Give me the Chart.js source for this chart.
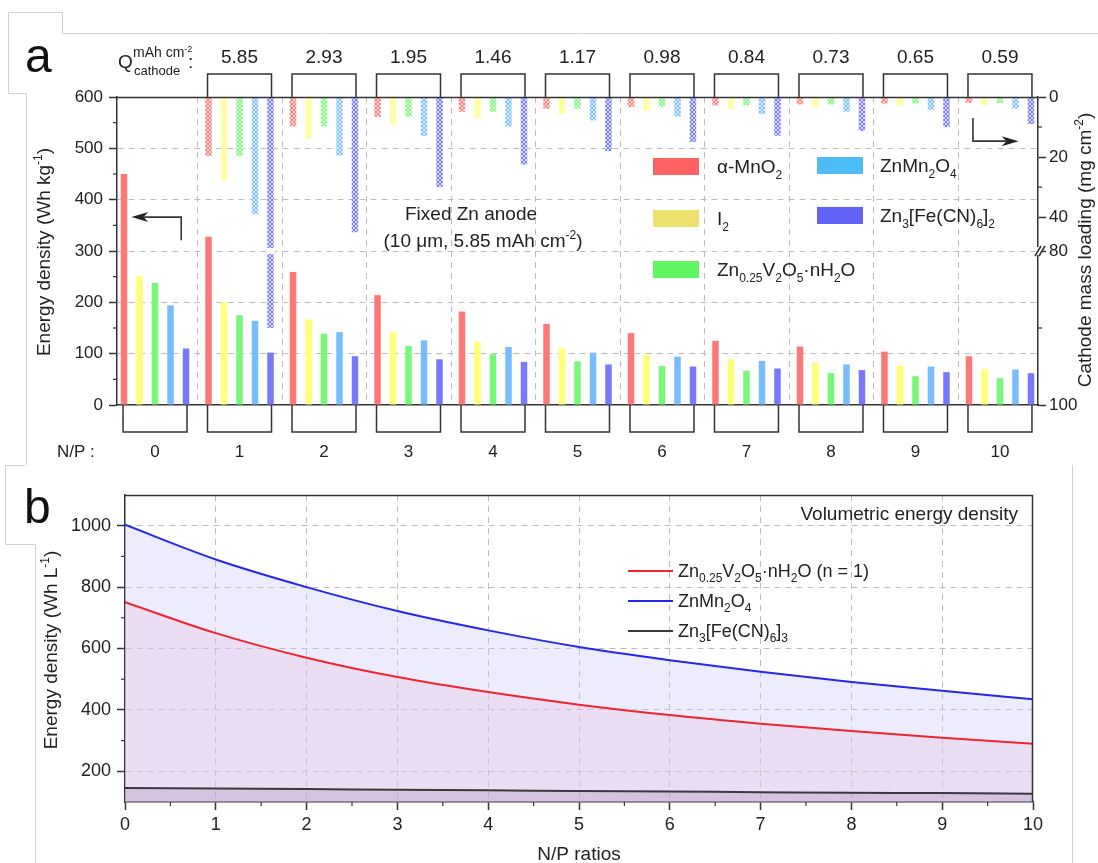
<!DOCTYPE html>
<html>
<head>
<meta charset="utf-8">
<script src="https://cdn.jsdelivr.net/npm/chart.js@4.4.1/dist/chart.umd.min.js"></script>
<style>
  html, body { margin: 0; padding: 0; background: #fff; }
  #wrap { position: relative; width: 1098px; height: 863px; overflow: hidden; }
  canvas { position: absolute; left: 0; }
  #chartA { top: 0; }
  #chartB { top: 465px; }
</style>
</head>
<body>
<div id="wrap">
  <canvas id="chartA" width="1098" height="465" style="width:1098px;height:465px"></canvas>
  <canvas id="chartB" width="1098" height="398" style="width:1098px;height:398px"></canvas>
</div>
<script>
// ---- panel a data ----
var npRatios = [0, 1, 2, 3, 4, 5, 6, 7, 8, 9, 10];
var qCathode = ['', '5.85', '2.93', '1.95', '1.46', '1.17', '0.98', '0.84', '0.73', '0.65', '0.59'];
var materials = ['α-MnO_{2}', 'I_{2}', 'Zn_{0.25}V_{2}O_{5}·nH_{2}O', 'ZnMn_{2}O_{4}', 'Zn_{3}[Fe(CN)_{6}]_{2}'];

// gravimetric energy density (Wh kg-1)
var energyMnO2  = [450, 328, 259, 214, 182, 158, 140, 125, 114, 104, 95];
var energyI2    = [251, 200, 167, 141, 123, 110, 98, 89, 82, 76, 70];
var energyZVO   = [238, 175, 139, 115, 99, 85, 76, 67, 62, 56, 52];
var energyZMO   = [194, 164, 142, 126, 113, 102, 94, 86, 79, 75, 69];
var energyZnHCF = [110, 102, 95, 89, 84, 79, 75, 71, 68, 64, 62];

// cathode mass loading (mg cm-2), none at N/P = 0
var massMnO2  = [null, 19.7, 9.8, 6.6, 4.9, 3.9, 3.3, 2.8, 2.5, 2.2, 2.0];
var massI2    = [null, 27.8, 13.9, 9.3, 6.9, 5.6, 4.6, 4.0, 3.5, 3.1, 2.8];
var massZVO   = [null, 19.7, 9.8, 6.6, 4.9, 3.9, 3.3, 2.8, 2.5, 2.2, 2.0];
var massZMO   = [null, 39.0, 19.5, 13.0, 9.8, 7.8, 6.5, 5.6, 4.9, 4.3, 3.9];
var massZnHCF = [null, 90.0, 45.0, 30.0, 22.5, 18.0, 15.0, 12.9, 11.3, 10.0, 9.0];
var massTicks = [0, 20, 40, 80, 100];
var massMinorTicks = [10, 30, 90];

// ---- panel b data ----
var npCurve   = [0, 1, 2, 3, 4, 5, 6, 7, 8, 9, 10];
var volZVO    = [751, 650, 570, 507, 458, 417, 383, 355, 331, 309, 290];
var volZMO    = [1003, 890, 800, 722, 659, 605, 562, 524, 491, 462, 435];
var volZnHCF  = [146, 144, 142, 140, 138, 136, 134, 132, 130, 129, 127];
var volTicks  = [200, 400, 600, 800, 1000];

var barColors    = ['#ff7878', '#ffff78', '#78f878', '#78beff', '#7878ff'];
var swatchColors = ['#ff6262', '#ebe36e', '#62f562', '#4cbcf4', '#6262f8'];

var FONT = '"Liberation Sans", Arial, sans-serif';
Chart.defaults.font.family = FONT;
Chart.defaults.color = '#222';

function font(size) { return size + 'px ' + FONT; }

// "Zn_{3}[Fe(CN)_{6}]_{2}" -> pieces with sub/superscript shifts
function richParts(str) {
  var parts = [], re = /([_^])\{([^}]*)\}|([^_^]+)/g, m;
  while ((m = re.exec(str)) !== null) {
    if (m[3] !== undefined) parts.push({ t: m[3], shift: 0 });
    else parts.push({ t: m[2], shift: m[1] === '_' ? -1 : 1 });
  }
  return parts;
}

function drawRich(ctx, str, x, y, size, align) {
  var parts = richParts(str), total = 0;
  parts.forEach(function (p) {
    p.size = p.shift ? Math.round(size * 0.64) : size;
    ctx.font = font(p.size);
    p.w = ctx.measureText(p.t).width;
    total += p.w;
  });
  var cx = x;
  if (align === 'center') cx = x - total / 2;
  if (align === 'right') cx = x - total;
  ctx.textAlign = 'left';
  ctx.textBaseline = 'alphabetic';
  parts.forEach(function (p) {
    ctx.font = font(p.size);
    var dy = p.shift < 0 ? size * 0.3 : (p.shift > 0 ? -size * 0.42 : 0);
    ctx.fillText(p.t, cx, y + dy);
    cx += p.w;
  });
}

function drawRotated(ctx, str, cx, cy, size) {
  ctx.save();
  ctx.translate(cx, cy);
  ctx.rotate(-Math.PI / 2);
  drawRich(ctx, str, 0, size * 0.36, size, 'center');
  ctx.restore();
}

function seg(ctx, x1, y1, x2, y2) {
  ctx.beginPath(); ctx.moveTo(x1, y1); ctx.lineTo(x2, y2); ctx.stroke();
}

function arrowHead(ctx, tipX, tipY, dir) {
  ctx.beginPath();
  ctx.moveTo(tipX, tipY);
  ctx.lineTo(tipX - dir * 17, tipY - 5);
  ctx.lineTo(tipX - dir * 12, tipY);
  ctx.lineTo(tipX - dir * 17, tipY + 5);
  ctx.closePath();
  ctx.fill();
}

// the right axis of panel a is broken: 0-51 mg on the upper half, 80-100 mg on the lower half
var Y_TOP = 600, Y_BREAK = 300, MASS_BREAK = 80;
function massToLeft(m) {
  if (m >= MASS_BREAK) return (100 - m) * (Y_BREAK / (100 - MASS_BREAK));
  return Y_TOP - m * 5.85;
}

var ctxA = document.getElementById('chartA').getContext('2d');

function hatch(color) {
  var c = document.createElement('canvas');
  c.width = 4; c.height = 4;
  var g = c.getContext('2d');
  g.fillStyle = '#fff'; g.fillRect(0, 0, 4, 4);
  g.globalAlpha = 0.3; g.fillStyle = color; g.fillRect(0, 0, 4, 4);
  g.globalAlpha = 0.95; g.strokeStyle = color; g.lineWidth = 1;
  g.beginPath(); g.moveTo(0, 0); g.lineTo(4, 4); g.moveTo(4, 0); g.lineTo(0, 4); g.stroke();
  return ctxA.createPattern(c, 'repeat');
}

var energySets = [energyMnO2, energyI2, energyZVO, energyZMO, energyZnHCF];
var massSets = [massMnO2, massI2, massZVO, massZMO, massZnHCF];

var datasetsA = energySets.map(function (vals, k) {
  return {
    label: materials[k],
    stack: 's' + k,
    data: vals.map(function (v, i) { return { x: npRatios[i], y: v }; }),
    backgroundColor: barColors[k],
    borderWidth: 0
  };
}).concat(massSets.map(function (vals, k) {
  var pts = [];
  vals.forEach(function (m, i) {
    if (m !== null) pts.push({ x: npRatios[i], y: [massToLeft(m), Y_TOP] });
  });
  return {
    label: materials[k] + ' loading',
    stack: 's' + k,
    mass: vals,
    data: pts,
    backgroundColor: hatch(barColors[k]),
    borderWidth: 0
  };
}));

var panelA = {
  id: 'panelA',
  beforeDatasetsDraw: function (chart) {
    var ctx = chart.ctx, a = chart.chartArea, x = chart.scales.x;
    ctx.save();
    ctx.strokeStyle = '#bdbdbd'; ctx.lineWidth = 1; ctx.setLineDash([6, 5]);
    for (var i = 0; i < npRatios.length - 1; i++) {
      var px = Math.round(x.getPixelForValue(npRatios[i] + 0.5)) + 0.5;
      seg(ctx, px, a.top, px, a.bottom);
    }
    ctx.restore();
  },
  afterDatasetsDraw: function (chart) {
    // white gap where a loading bar crosses the axis break
    var ctx = chart.ctx, y = chart.scales.y;
    var by = y.getPixelForValue(Y_BREAK);
    ctx.save();
    ctx.fillStyle = '#fff';
    chart.data.datasets.forEach(function (ds, di) {
      if (!ds.mass) return;
      var meta = chart.getDatasetMeta(di);
      ds.data.forEach(function (pt, j) {
        var m = ds.mass[pt.x];
        if (m > 51) {
          var el = meta.data[j];
          ctx.fillRect(el.x - el.width / 2 - 1, by - 3, el.width + 2, 6);
        }
      });
    });
    ctx.restore();
  },
  afterDraw: function (chart) {
    var ctx = chart.ctx, a = chart.chartArea, x = chart.scales.x, y = chart.scales.y;
    ctx.save();
    ctx.strokeStyle = '#333'; ctx.fillStyle = '#222'; ctx.lineWidth = 1.5;

    // top frame line
    seg(ctx, a.left, a.top + 0.5, a.right, a.top + 0.5);

    // minor ticks, left and right axes
    ctx.lineWidth = 1.2;
    for (var v = 50; v < Y_TOP; v += 100) {
      var py = y.getPixelForValue(v);
      seg(ctx, a.left - 4, py, a.left, py);
    }
    massMinorTicks.forEach(function (m) {
      var py = y.getPixelForValue(massToLeft(m));
      seg(ctx, a.right, py, a.right + 4, py);
    });

    // group brackets and labels
    ctx.lineWidth = 1.5;
    var first = chart.getDatasetMeta(0), last = chart.getDatasetMeta(4);
    npRatios.forEach(function (np, i) {
      var x1 = first.data[i].x - 1, x2 = last.data[i].x + 1;
      ctx.beginPath();
      ctx.moveTo(x1, a.bottom); ctx.lineTo(x1, a.bottom + 27);
      ctx.lineTo(x2, a.bottom + 27); ctx.lineTo(x2, a.bottom);
      ctx.stroke();
      ctx.font = font(17); ctx.textAlign = 'center'; ctx.textBaseline = 'alphabetic';
      ctx.fillText(String(np), (x1 + x2) / 2, a.bottom + 52);
      if (qCathode[i]) {
        ctx.beginPath();
        ctx.moveTo(x1, a.top); ctx.lineTo(x1, a.top - 23);
        ctx.lineTo(x2, a.top - 23); ctx.lineTo(x2, a.top);
        ctx.stroke();
        ctx.font = font(19);
        ctx.fillText(qCathode[i], (x1 + x2) / 2, a.top - 34);
      }
    });

    // row captions
    ctx.textAlign = 'left';
    ctx.font = font(17);
    ctx.fillText('N/P :', 57, a.bottom + 52);
    ctx.font = font(19);
    ctx.fillText('Q', 118, 68);
    ctx.font = font(14);
    ctx.fillText('mAh cm', 133, 57);
    var wSup = ctx.measureText('mAh cm').width;
    ctx.font = font(9);
    ctx.fillText('-2', 133 + wSup, 52);
    ctx.font = font(13);
    ctx.fillText('cathode', 134, 75);
    ctx.font = font(19);
    ctx.fillText(':', 188, 68);

    // arrows pointing to the axes
    ctx.lineWidth = 1.6;
    var ax = x.getPixelForValue(0.31), ay1 = y.getPixelForValue(321), ay2 = y.getPixelForValue(366);
    var tipL = x.getPixelForValue(-0.28);
    ctx.beginPath(); ctx.moveTo(ax, ay1); ctx.lineTo(ax, ay2); ctx.lineTo(tipL + 12, ay2); ctx.stroke();
    arrowHead(ctx, tipL, ay2, -1);
    var bx = x.getPixelForValue(9.68), by1 = y.getPixelForValue(559), by2 = y.getPixelForValue(514);
    var tipR = x.getPixelForValue(10.22);
    ctx.beginPath(); ctx.moveTo(bx, by1); ctx.lineTo(bx, by2); ctx.lineTo(tipR - 12, by2); ctx.stroke();
    arrowHead(ctx, tipR, by2, 1);

    // axis break on the right axis
    var brk = y.getPixelForValue(Y_BREAK);
    ctx.fillStyle = '#fff';
    ctx.fillRect(a.right - 3, brk - 4, 7, 8);
    ctx.strokeStyle = '#333'; ctx.lineWidth = 1.5;
    seg(ctx, a.right - 3, brk + 5, a.right + 3, brk - 5);
    seg(ctx, a.right + 1, brk + 5, a.right + 7, brk - 5);
    ctx.fillStyle = '#222';

    // legend, two columns
    var spots = [[653, 166, 717], [653, 218, 717], [653, 269, 717], [817, 165, 880], [817, 215, 880]];
    spots.forEach(function (s, k) {
      ctx.fillStyle = swatchColors[k];
      ctx.fillRect(s[0], s[1] - 8, 46, 17);
      ctx.fillStyle = '#222';
      drawRich(ctx, chart.data.datasets[k].label, s[2], s[1] + 7, 19, 'left');
    });

    // annotation
    ctx.font = font(19); ctx.textAlign = 'center';
    ctx.fillText('Fixed Zn anode', 471, 220);
    drawRich(ctx, '(10 μm, 5.85 mAh cm^{-2})', 483, 247, 19, 'center');

    // axis titles
    drawRotated(ctx, 'Energy density (Wh kg^{-1})', 43, 252, 19);
    drawRotated(ctx, 'Cathode mass loading (mg cm^{-2})', 1084, 250, 19);

    // panel letter
    ctx.fillStyle = '#111';
    ctx.font = font(48); ctx.textAlign = 'left';
    ctx.fillText('a', 25, 72);
    ctx.strokeStyle = '#d2d2d2'; ctx.lineWidth = 1;
    ctx.beginPath();
    ctx.moveTo(26.5, 465); ctx.lineTo(26.5, 93.5); ctx.lineTo(8.5, 93.5); ctx.lineTo(8.5, 12.5);
    ctx.lineTo(62.5, 12.5); ctx.lineTo(62.5, 33.5); ctx.lineTo(1098, 33.5);
    ctx.stroke();
    ctx.restore();
  }
};

new Chart(ctxA, {
  type: 'bar',
  data: { datasets: datasetsA },
  options: {
    responsive: false,
    animation: false,
    events: [],
    layout: { padding: { top: 97, left: 0, right: 0, bottom: 0 } },
    datasets: { bar: { categoryPercentage: 0.917, barPercentage: 0.42 } },
    plugins: { legend: { display: false }, tooltip: { enabled: false } },
    scales: {
      x: {
        type: 'linear', min: -0.45, max: 10.45, offset: false,
        afterBuildTicks: function (s) { s.ticks = npRatios.map(function (v) { return { value: v }; }); },
        ticks: { display: false },
        grid: { display: false, offset: false },
        border: { display: true, color: '#333', width: 1.5 },
        afterFit: function (s) { s.height = 60; }
      },
      y: {
        position: 'left', min: 0, max: Y_TOP, stacked: false,
        ticks: { stepSize: 100, font: { size: 17 }, color: '#222', padding: 6 },
        grid: {
          color: function (c) { return (c.tick && (c.tick.value === 0 || c.tick.value === Y_TOP)) ? 'rgba(0,0,0,0)' : '#bdbdbd'; },
          tickColor: '#333', tickLength: 8, tickWidth: 1.5, lineWidth: 1
        },
        border: { display: true, color: '#333', width: 1.5, dash: [6, 5] },
        afterFit: function (s) { s.width = 117; }
      },
      y2: {
        position: 'right', min: 0, max: Y_TOP,
        afterBuildTicks: function (s) { s.ticks = massTicks.slice().reverse().map(function (m) { return { value: massToLeft(m) }; }); },
        ticks: {
          font: { size: 17 }, color: '#222', padding: 3, autoSkip: false,
          callback: function (v, i) { return String(massTicks[massTicks.length - 1 - i]); }
        },
        grid: { drawOnChartArea: false, tickColor: '#333', tickLength: 8, tickWidth: 1.5 },
        border: { display: true, color: '#333', width: 1.5 },
        afterFit: function (s) { s.width = 60; }
      }
    }
  },
  plugins: [panelA]
});

// ---- panel b ----
var curveSets = [
  { label: 'Zn_{0.25}V_{2}O_{5}·nH_{2}O (n = 1)', vals: volZVO, line: '#f2232f', fill: 'rgba(235,190,225,0.3)', order: 1 },
  { label: 'ZnMn_{2}O_{4}', vals: volZMO, line: '#2626f0', fill: 'rgba(200,200,245,0.35)', order: 2 },
  { label: 'Zn_{3}[Fe(CN)_{6}]_{3}', vals: volZnHCF, line: '#3a3a3a', fill: 'rgba(150,120,160,0.25)', order: 0 }
];

var panelB = {
  id: 'panelB',
  afterDraw: function (chart) {
    var ctx = chart.ctx, a = chart.chartArea, x = chart.scales.x, y = chart.scales.y;
    ctx.save();
    ctx.strokeStyle = '#333'; ctx.lineWidth = 1.5;
    ctx.beginPath();
    ctx.moveTo(a.left, a.top + 0.5); ctx.lineTo(a.right - 0.5, a.top + 0.5); ctx.lineTo(a.right - 0.5, a.bottom);
    ctx.stroke();

    ctx.lineWidth = 1.2;
    for (var v = 0.5; v < 10; v += 1) {
      var px = x.getPixelForValue(v);
      seg(ctx, px, a.bottom, px, a.bottom + 4);
    }
    for (var w = 300; w < 1100; w += 200) {
      var py = y.getPixelForValue(w);
      seg(ctx, a.left - 4, py, a.left, py);
    }

    // legend
    ctx.lineWidth = 2;
    chart.data.datasets.forEach(function (ds, k) {
      var ly = 106 + k * 30;
      ctx.strokeStyle = ds.borderColor;
      seg(ctx, 628, ly, 673, ly);
      ctx.fillStyle = '#222';
      drawRich(ctx, ds.label, 678, ly + 6, 18, 'left');
    });

    ctx.fillStyle = '#222';
    ctx.font = font(19); ctx.textAlign = 'right'; ctx.textBaseline = 'alphabetic';
    ctx.fillText('Volumetric energy density', 1018, 55);
    ctx.textAlign = 'center';
    ctx.fillText('N/P ratios', (a.left + a.right) / 2, 395);
    drawRotated(ctx, 'Energy density (Wh L^{-1})', 50, 185, 19);

    // panel letter
    ctx.fillStyle = '#111';
    ctx.font = font(48); ctx.textAlign = 'left';
    ctx.fillText('b', 24, 58);
    ctx.strokeStyle = '#d2d2d2'; ctx.lineWidth = 1;
    ctx.beginPath();
    ctx.moveTo(25, 0.5); ctx.lineTo(5.5, 0.5); ctx.lineTo(5.5, 79.5); ctx.lineTo(35.5, 79.5); ctx.lineTo(35.5, 398);
    ctx.stroke();
    seg(ctx, 1072.5, 0, 1072.5, 398);
    ctx.restore();
  }
};

new Chart(document.getElementById('chartB'), {
  type: 'line',
  data: {
    datasets: curveSets.map(function (c) {
      return {
        label: c.label,
        order: c.order,
        data: c.vals.map(function (v, i) { return { x: npCurve[i], y: v }; }),
        borderColor: c.line,
        backgroundColor: c.fill,
        borderWidth: 2,
        pointRadius: 0,
        cubicInterpolationMode: 'monotone',
        fill: 'start'
      };
    })
  },
  options: {
    responsive: false,
    animation: false,
    events: [],
    layout: { padding: { top: 30, right: 65, left: 0, bottom: 0 } },
    plugins: { legend: { display: false }, tooltip: { enabled: false } },
    scales: {
      x: {
        type: 'linear', min: 0, max: 10,
        ticks: { stepSize: 1, font: { size: 18 }, color: '#222', padding: 4 },
        grid: {
          color: function (c) { return (c.tick && (c.tick.value === 0 || c.tick.value === 10)) ? 'rgba(0,0,0,0)' : '#bdbdbd'; },
          tickColor: '#333', tickLength: 8, tickWidth: 1.5
        },
        border: { display: true, color: '#333', width: 1.5, dash: [6, 5] },
        afterFit: function (s) { s.height = 61; }
      },
      y: {
        min: 100, max: 1100,
        afterBuildTicks: function (s) { s.ticks = volTicks.map(function (v) { return { value: v }; }); },
        ticks: { font: { size: 18 }, color: '#222', padding: 6, callback: function (v) { return String(v); } },
        grid: { color: '#bdbdbd', tickColor: '#333', tickLength: 8, tickWidth: 1.5 },
        border: { display: true, color: '#333', width: 1.5, dash: [6, 5] },
        afterFit: function (s) { s.width = 125; }
      }
    }
  },
  plugins: [panelB]
});
</script>
</body>
</html>
